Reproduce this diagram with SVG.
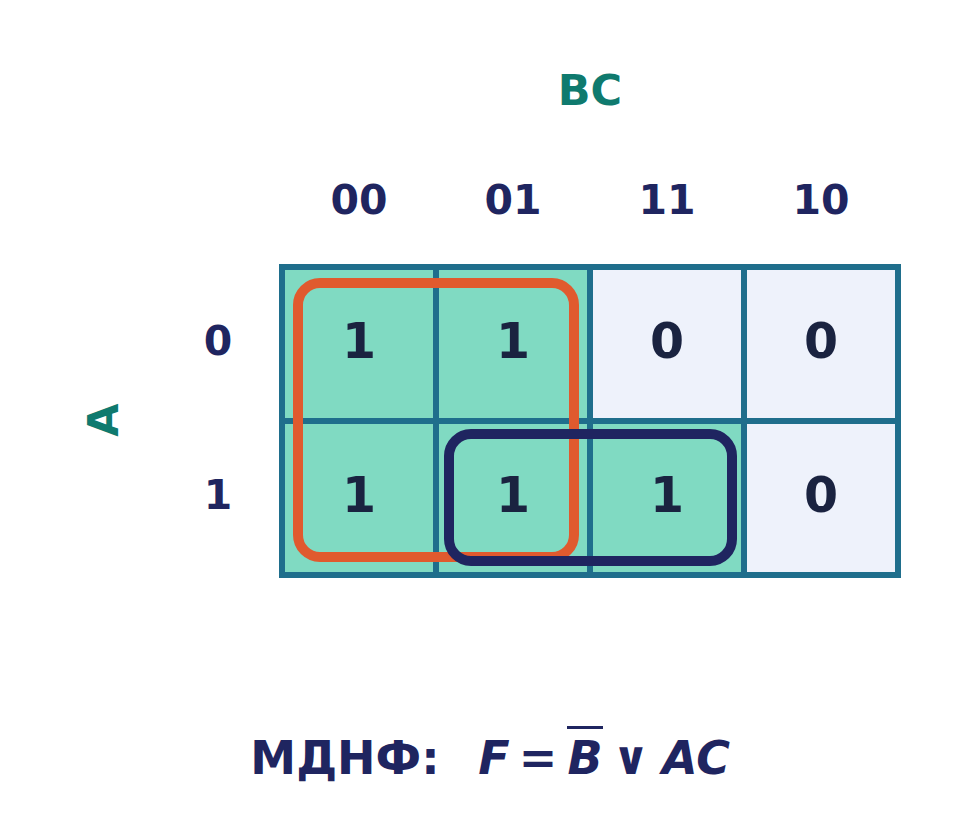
<svg xmlns="http://www.w3.org/2000/svg" width="980" height="821" viewBox="0 0 980 821">
<style>
text{font-family:"DejaVu Sans",sans-serif;font-weight:bold;text-anchor:middle}
.h{font-size:41px;fill:#1f2560}
.v{font-size:49px;fill:#1a2340}
.t{font-size:43px;fill:#0f7a6e}
.f{font-size:46px;fill:#1f2560}
.on{fill:#80dac2}.off{fill:#eef2fb}
.g{stroke:#1f6e8c;stroke-width:6;fill:none}
</style>
<rect width="980" height="821" fill="#fff"/>
<text class="t" x="590" y="105">BC</text>
<text class="t" transform="translate(118,420) rotate(-90)">A</text>
<g id="headers">
<text class="h" x="359" y="214">00</text><text class="h" x="513" y="214">01</text>
<text class="h" x="667" y="214">11</text><text class="h" x="821" y="214">10</text>
<text class="h" x="218" y="355">0</text><text class="h" x="218" y="509">1</text>
</g>
<g id="cells">
<rect class="on" x="282" y="267" width="308" height="154"/>
<rect class="off" x="590" y="267" width="308" height="154"/>
<rect class="on" x="282" y="421" width="462" height="154"/>
<rect class="off" x="744" y="421" width="154" height="154"/>
<text class="v" x="359" y="358">1</text><text class="v" x="513" y="358">1</text>
<text class="v" x="667" y="358">0</text><text class="v" x="821" y="358">0</text>
<text class="v" x="359" y="512">1</text><text class="v" x="513" y="512">1</text>
<text class="v" x="667" y="512">1</text><text class="v" x="821" y="512">0</text>
</g>
<g id="grid">
<rect class="g" x="282" y="267" width="616" height="308"/>
<path class="g" d="M436 267V575M590 267V575M744 267V575M282 421H898"/>
</g>
<g id="groups" fill="none" stroke-width="10">
<rect x="298" y="283" width="276" height="274" rx="22" stroke="#e05a2e"/>
<rect x="449" y="434" width="283" height="127" rx="22" stroke="#1f2560"/>
</g>
<g id="formula">
<text class="f" x="345" y="774">МДНФ:</text>
<text class="f" x="494" y="774" font-style="italic">F</text>
<text class="f" x="538" y="774">=</text>
<text class="f" x="585" y="774" font-style="italic">B</text>
<rect x="567" y="726" width="36" height="3" fill="#1f2560"/>
<text class="f" x="631" y="774">∨</text>
<text class="f" x="696" y="774" font-style="italic">AC</text>
</g>
</svg>
